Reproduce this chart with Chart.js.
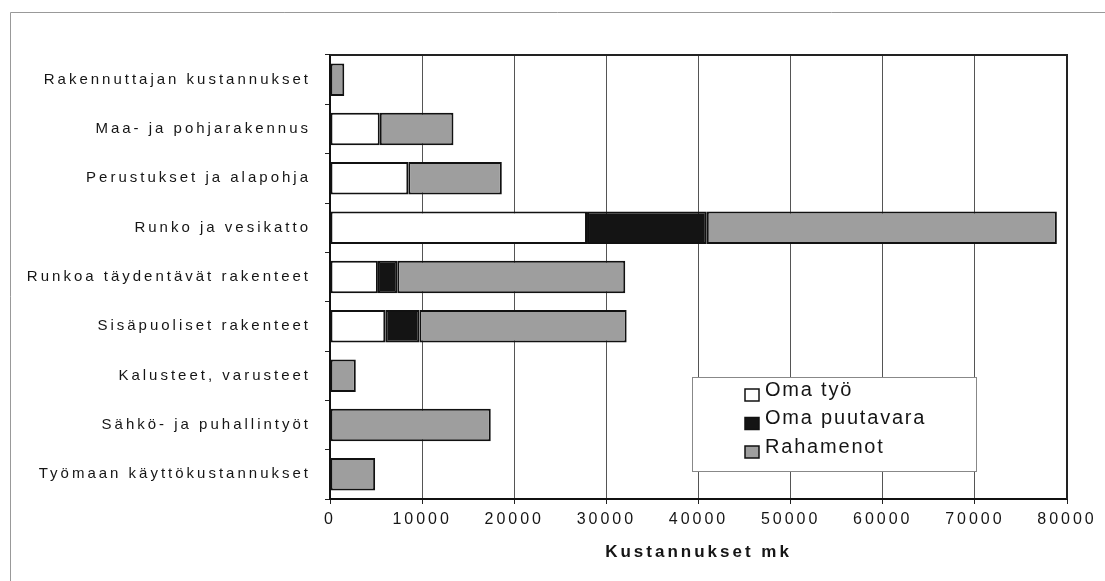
<!DOCTYPE html>
<html>
<head>
<meta charset="utf-8">
<script src="https://cdn.jsdelivr.net/npm/chart.js@4/dist/chart.umd.min.js"></script>
<style>
  html, body { margin: 0; padding: 0; background: #fff; }
  #kaavio { display: block; }
</style>
</head>
<body>
<canvas id="kaavio" width="1105" height="581"></canvas>
<script>
// Kustannuserät
const kategoriat = [
  'Rakennuttajan kustannukset',
  'Maa- ja pohjarakennus',
  'Perustukset ja alapohja',
  'Runko ja vesikatto',
  'Runkoa täydentävät rakenteet',
  'Sisäpuoliset rakenteet',
  'Kalusteet, varusteet',
  'Sähkö- ja puhallintyöt',
  'Työmaan käyttökustannukset'
];
const omaTyo       = [0, 5400, 8500, 27900, 5200, 6000, 0, 0, 0];
const omaPuutavara = [0, 0, 0, 13000, 2100, 3700, 0, 0, 0];
const rahamenot    = [1550, 8000, 10150, 38000, 24750, 22500, 2800, 17450, 4900];
const xTikit = ['0', '10000', '20000', '30000', '40000', '50000', '60000', '70000', '80000'];

const FONTTI = '"Liberation Sans", Arial, sans-serif';
const TEKSTI = '#151515';

// kirjainväli kaikille kaavion teksteille
const kirjainvali = {
  id: 'kirjainvali',
  beforeLayout(chart) { chart.ctx.letterSpacing = '3px'; },
  beforeDraw(chart) {
    chart.ctx.letterSpacing = '3px';
    // ulkokehys
    const c = chart.ctx;
    c.save();
    c.strokeStyle = '#999';
    c.lineWidth = 1;
    c.beginPath();
    c.moveTo(10.5, 581);
    c.lineTo(10.5, 12.5);
    c.lineTo(1105, 12.5);
    c.stroke();
    c.restore();
  }
};

// kuva-alueen yläreuna ja oikea reuna
const kehys = {
  id: 'kehys',
  beforeDatasetsDraw(chart) {
    const { left, right, top, bottom } = chart.chartArea;
    const c = chart.ctx;
    c.save();
    c.strokeStyle = '#222';
    c.lineWidth = 2;
    c.beginPath();
    c.moveTo(left, top);
    c.lineTo(right, top);
    c.lineTo(right, bottom);
    c.stroke();
    c.restore();
  }
};

// selite laatikossa kuvan sisällä
const selite = {
  id: 'selite',
  afterDraw(chart) {
    const c = chart.ctx;
    c.save();
    c.fillStyle = '#fff';
    c.fillRect(692, 377, 284, 94);
    c.strokeStyle = '#888';
    c.lineWidth = 1;
    c.strokeRect(692.5, 377.5, 284, 94);
    c.letterSpacing = '1.8px';
    c.font = '20px ' + FONTTI;
    c.textBaseline = 'middle';
    c.textAlign = 'left';
    chart.data.datasets.forEach((ds, i) => {
      const y = 389 + i * 28.5;
      c.fillStyle = ds.backgroundColor;
      c.fillRect(745, y, 14, 12);
      c.strokeStyle = '#111';
      c.lineWidth = 1.5;
      c.strokeRect(745, y, 14, 12);
      c.fillStyle = TEKSTI;
      c.fillText(ds.label, 765, y + 1);
    });
    c.restore();
  }
};

const reuna = (ctx) => ctx.raw ? 2 : 0;

new Chart(document.getElementById('kaavio'), {
  type: 'bar',
  data: {
    labels: kategoriat,
    datasets: [
      { label: 'Oma työ', data: omaTyo, backgroundColor: '#ffffff', borderColor: '#111', borderWidth: reuna, borderSkipped: false },
      { label: 'Oma puutavara', data: omaPuutavara, backgroundColor: '#141414', borderColor: '#111', borderWidth: reuna, borderSkipped: false },
      { label: 'Rahamenot', data: rahamenot, backgroundColor: '#9e9e9e', borderColor: '#111', borderWidth: reuna, borderSkipped: false }
    ]
  },
  options: {
    indexAxis: 'y',
    responsive: false,
    animation: false,
    layout: { padding: { left: 0, top: 55, right: 38, bottom: 18 } },
    datasets: { bar: { categoryPercentage: 1, barPercentage: 0.66 } },
    plugins: {
      legend: { display: false },
      tooltip: { enabled: false }
    },
    scales: {
      x: {
        stacked: true,
        min: 0,
        max: 80000,
        afterFit: (s) => { s.height = 64; },
        afterBuildTicks: (s) => { s.ticks = xTikit.map((t, i) => ({ value: i * 10000 })); },
        ticks: {
          callback: (v, i) => xTikit[i],
          color: TEKSTI,
          padding: 6,
          maxRotation: 0,
          font: { family: FONTTI, size: 16 }
        },
        grid: { color: '#555', lineWidth: 1, tickLength: 5, tickColor: '#222' },
        border: { color: '#111', width: 2 },
        title: {
          display: true,
          text: 'Kustannukset mk',
          color: TEKSTI,
          padding: { top: 4, bottom: 0 },
          font: { family: FONTTI, size: 17, weight: 'bold' }
        }
      },
      y: {
        stacked: true,
        afterFit: (s) => { s.width = 330; },
        ticks: {
          color: TEKSTI,
          padding: 14,
          font: { family: FONTTI, size: 15 }
        },
        grid: { drawOnChartArea: false, tickLength: 5, tickColor: '#222' },
        border: { color: '#111', width: 2 }
      }
    }
  },
  plugins: [kirjainvali, kehys, selite]
});
</script>
</body>
</html>
